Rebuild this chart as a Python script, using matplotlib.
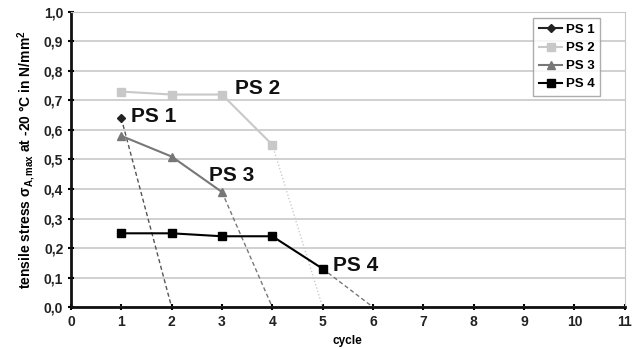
import matplotlib.pyplot as plt

plt.rcParams['font.family'] = ['Liberation Sans', 'DejaVu Sans']
plt.rcParams['mathtext.fontset'] = 'custom'
plt.rcParams['mathtext.rm'] = 'Liberation Sans'
plt.rcParams['mathtext.it'] = 'Liberation Sans:italic'
plt.rcParams['mathtext.bf'] = 'Liberation Sans:bold'

# data
ps1_x = [1]
ps1_y = [0.64]
ps2_x = [1, 2, 3, 4]
ps2_y = [0.73, 0.72, 0.72, 0.55]
ps3_x = [1, 2, 3]
ps3_y = [0.58, 0.51, 0.39]
ps4_x = [1, 2, 3, 4, 5]
ps4_y = [0.25, 0.25, 0.24, 0.24, 0.13]

# extrapolated failure cycles (where the dashed lines reach zero)
fail_cycle = {"PS 1": 2, "PS 2": 5, "PS 3": 4, "PS 4": 6}

series = [
    ("PS 1", ps1_x, ps1_y, "#222222", "D", 4),
    ("PS 2", ps2_x, ps2_y, "#c8c8c8", "s", 6),
    ("PS 3", ps3_x, ps3_y, "#777777", "^", 6),
    ("PS 4", ps4_x, ps4_y, "#000000", "s", 6),
]
ext_style = {"PS 1": ("#555555", (0, (3, 2))), "PS 2": ("#cccccc", (0, (1, 1.5))),
             "PS 3": ("#777777", (0, (3, 2))), "PS 4": ("#777777", (0, (3, 2)))}

fig = plt.figure(figsize=(6.33, 3.49), dpi=100)
ax = fig.add_axes([0.112, 0.12, 0.875, 0.846])

ax.yaxis.grid(True, color="#c8c8c8", linewidth=1.2)
ax.set_axisbelow(True)

for name, xs, ys, col, mk, ms in series:
    ecol, ls = ext_style[name]
    ax.plot([xs[-1], fail_cycle[name]], [ys[-1], 0], color=ecol, linestyle=ls, linewidth=1)
    ax.plot(xs, ys, color=col, marker=mk, markersize=ms, linewidth=1.5, label=name)

lab_kw = dict(fontsize=15, fontweight="bold", color="#111111")
ax.text(1.2, 0.645, "PS 1", va="center", **lab_kw)
ax.text(3.25, 0.74, "PS 2", va="center", **lab_kw)
ax.text(2.75, 0.445, "PS 3", va="center", **lab_kw)
ax.text(5.2, 0.14, "PS 4", va="center", **lab_kw)

ax.set_xlim(0, 11)
ax.set_ylim(0, 1.0)
ax.set_xticks(range(0, 12))
ax.set_yticks([i / 10 for i in range(11)])
ax.set_yticklabels([f"{i / 10:.1f}".replace(".", ",") for i in range(11)])
ax.tick_params(labelsize=10, width=1.5, length=4, direction="inout")
for lbl in ax.get_xticklabels() + ax.get_yticklabels():
    lbl.set_fontweight("bold")
    lbl.set_color("#222222")

for s in ["left", "bottom"]:
    ax.spines[s].set_linewidth(2)
    ax.spines[s].set_color("#111111")
ax.spines["right"].set_color("#c8c8c8")
ax.spines["top"].set_color("#c8c8c8")

ax.set_ylabel(r"tensile stress $\mathbf{\sigma_{A,max}}$ at -20 °C in N/mm$\mathbf{^2}$",
              fontsize=10, fontweight="bold", labelpad=5)
ax.text(5.5, -0.115, "cycle", fontsize=8.5, fontweight="bold", ha="center", va="center")

leg = ax.legend(loc="upper right", bbox_to_anchor=(0.968, 1.0), fontsize=9.5,
                handlelength=1.8, frameon=True, fancybox=False, borderpad=0.4,
                labelspacing=0.45, handletextpad=0.3)
leg.get_frame().set_edgecolor("#999999")
for t in leg.get_texts():
    t.set_fontweight("bold")

fig.savefig("out.png", dpi=100)
